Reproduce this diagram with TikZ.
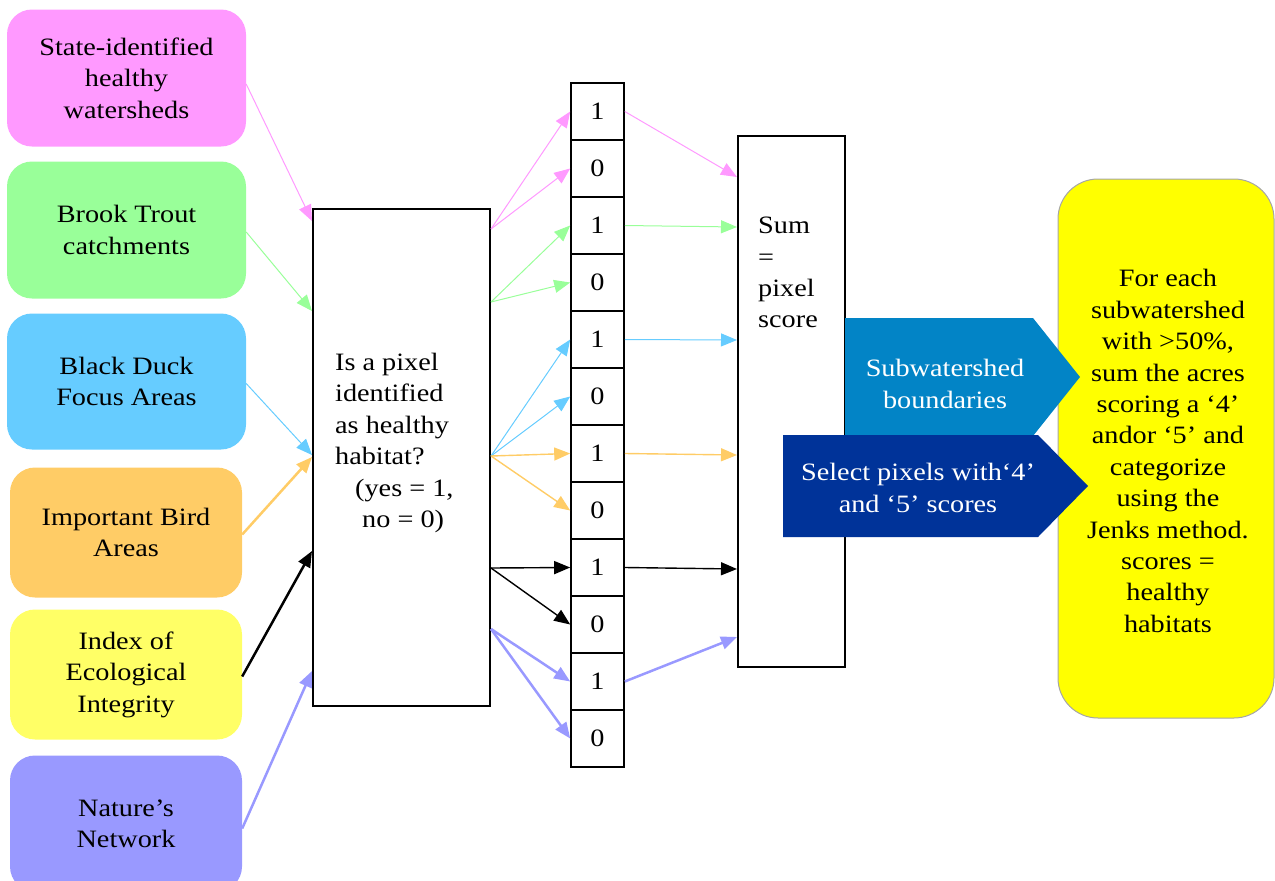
\documentclass[tikz,border=0pt]{standalone}
\usepackage{fontspec}
\setmainfont{Liberation Serif}[FakeStretch=1.13]
\usetikzlibrary{arrows.meta}

\definecolor{cpink}{HTML}{FF99FF}
\definecolor{cgreen}{HTML}{99FF99}
\definecolor{cblue}{HTML}{66CCFF}
\definecolor{corange}{HTML}{FFCC66}
\definecolor{cyellow}{HTML}{FFFF66}
\definecolor{cpurple}{HTML}{9999FF}
\definecolor{cresult}{HTML}{FFFF00}
\definecolor{cchevlight}{HTML}{0284C6}
\definecolor{cchevdark}{HTML}{003399}

\begin{document}
\begin{tikzpicture}[x=1pt,y=-1pt,
  font=\fontsize{25}{31.4}\selectfont,
  srcbox/.style={rounded corners=25pt, align=center, inner sep=0pt},
  framebox/.style={draw, line width=2pt, inner sep=0pt},
  cellbox/.style={draw, line width=1.6pt, minimum width=53pt, minimum height=57pt, inner sep=0pt},
  txt/.style={inner sep=0pt},
  tip/.style={-{Triangle[length=16pt,width=13pt]}},
  thinarr/.style={tip, line width=1pt},
  midarr/.style={tip, line width=1.4pt},
  thickarr/.style={tip, line width=2.5pt}]

\useasboundingbox (0,0) rectangle (1275,881);

% source layers
\node[srcbox, fill=cpink,   minimum width=239pt, minimum height=137pt] (pink)   at (126.5,78) {State-identified\\healthy\\watersheds};
\node[srcbox, fill=cgreen,  minimum width=239pt, minimum height=137pt] (green)  at (126.5,230) {Brook Trout\\catchments};
\node[srcbox, fill=cblue,   minimum width=239pt, minimum height=136pt] (blue)   at (126.5,381.5) {Black Duck\\Focus Areas};
\node[srcbox, fill=corange, minimum width=232pt, minimum height=130pt] (orange) at (126,532.5) {Important Bird\\Areas};
\node[srcbox, fill=cyellow, minimum width=232pt, minimum height=130pt] (yellow) at (126,674.5) {Index of\\Ecological\\Integrity};
\node[srcbox, fill=cpurple, minimum width=232pt, minimum height=136pt] (purple) at (126,823.5) {Nature’s\\Network};

% question box
\node[framebox, minimum width=177pt, minimum height=497pt] (main) at (401.5,457.5) {};
\node[txt, align=left, anchor=north west] (q) at (335,353)
  {Is a pixel\\identified\\as healthy\\habitat?\\\hspace*{20pt}(yes = 1,\\\hspace*{27pt}no = 0)};

% column of binary values
\foreach \v [count=\i from 0] in {1,0,1,0,1,0,1,0,1,0,1,0}
  \node[cellbox] (c\i) at (597.5,{111.5+57*\i}) {\v};

% sum box
\node[framebox, minimum width=107pt, minimum height=531pt] (sum) at (791.5,401.5) {};
\node[txt, align=left, anchor=north west] (sumtxt) at (758,217) {Sum\\=\\pixel\\score};

% result box
\node[draw=black!35, line width=1pt, fill=cresult, rounded corners=40pt,
      minimum width=216pt, minimum height=539pt, inner sep=0pt] (res) at (1166,448.5) {};
\node[txt, align=center] (restxt) at (1168,451)
  {For each\\subwatershed\\with >50\%,\\sum the acres\\scoring a ‘4’\\andor ‘5’ and\\categorize\\using the\\Jenks method.\\scores =\\healthy\\habitats};

% chevrons
\fill[cchevlight] (845,318) -- (1033,318) -- (1080,377) -- (1033,436) -- (845,436) -- cycle;
\node[txt, text=white, align=center] (subw) at (945,384) {Subwatershed\\boundaries};
\fill[cchevdark] (783,435) -- (1038,435) -- (1088,486) -- (1038,537) -- (783,537) -- cycle;
\node[txt, text=white, align=center] (sel) at (918,488) {Select pixels with‘4’\\and ‘5’ scores};

% inputs into the question box
\draw[thinarr, cpink]    ([yshift=-6pt]pink.east) -- ([yshift=-13pt]main.north west);
\draw[thinarr, cgreen]   ([yshift=-2pt]green.east)  -- ([yshift=-103pt]main.north west);
\draw[thinarr, cblue]    ([yshift=-2pt]blue.east)   -- ([yshift=-247pt]main.north west);
\draw[thickarr, corange] ([yshift=-2pt]orange.east) -- ([yshift=-249pt]main.north west);
\draw[thickarr, black]   ([yshift=-2pt]yellow.east) -- ([yshift=-343pt]main.north west);
\draw[thickarr, cpurple] ([yshift=-5pt]purple.east) -- ([yshift=-463pt]main.north west);

% yes / no branches
\draw[thinarr, cpink]   ([yshift=-21pt]main.north east) -- (c0.west);
\draw[thinarr, cpink]   ([yshift=-21pt]main.north east) -- (c1.west);
\draw[thinarr, cgreen]  ([yshift=-94pt]main.north east) -- (c2.west);
\draw[thinarr, cgreen]  ([yshift=-94pt]main.north east) -- (c3.west);
\draw[thinarr, cblue]   ([yshift=-248pt]main.north east) -- (c4.west);
\draw[thinarr, cblue]   ([yshift=-248pt]main.north east) -- (c5.west);
\draw[midarr, corange]  ([yshift=-248pt]main.north east) -- (c6.west);
\draw[midarr, corange]  ([yshift=-248pt]main.north east) -- (c7.west);
\draw[midarr, black]    ([yshift=-360pt]main.north east) -- (c8.west);
\draw[midarr, black]    ([yshift=-360pt]main.north east) -- (c9.west);
\draw[thickarr, cpurple]([yshift=-421pt]main.north east) -- (c10.west);
\draw[thickarr, cpurple]([yshift=-421pt]main.north east) -- (c11.west);

% ones into the sum
\draw[thinarr, cpink]   (c0.east)  -- ([yshift=-42pt]sum.north west);
\draw[thinarr, cgreen]  (c2.east)  -- ([yshift=-92pt]sum.north west);
\draw[thinarr, cblue]   (c4.east)  -- ([yshift=-205pt]sum.north west);
\draw[midarr, corange]  (c6.east)  -- ([yshift=-320pt]sum.north west);
\draw[midarr, black]    (c8.east)  -- ([yshift=-434pt]sum.north west);
\draw[thickarr, cpurple](c10.east) -- ([yshift=-502pt]sum.north west);
\end{tikzpicture}
\end{document}
